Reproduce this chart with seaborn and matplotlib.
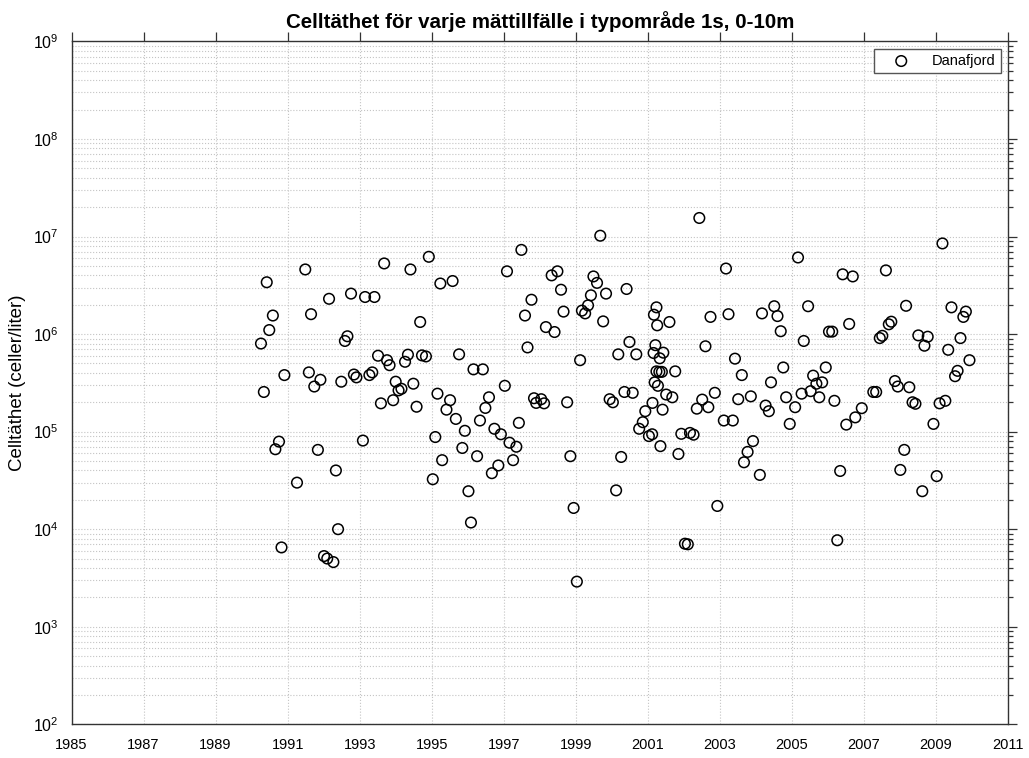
import matplotlib
matplotlib.use("Agg")
import matplotlib.pyplot as plt
import seaborn as sns
import pandas as pd
from matplotlib.ticker import FixedLocator, NullLocator, NullFormatter, LogFormatterSciNotation

title = "Celltäthet för varje mättillfälle i typområde 1s, 0-10m"
ylabel = "Celltäthet (celler/liter)"
series_name = "Danafjord"
xticks = list(range(1985, 2012, 2))
yticks = [1e2, 1e3, 1e4, 1e5, 1e6, 1e7, 1e8, 1e9]
ylim = (1e2, 1e9)

years = [
    1990.42, 1991.49, 1993.68, 1994.41, 1994.92, 1995.24, 1992.15, 1992.76, 1993.15, 1993.41,
    1990.59, 1991.65, 1990.49, 1990.26, 1992.66, 1992.59, 1994.68, 1993.51, 1993.76, 1993.83,
    1994.34, 1994.26, 1994.73, 1994.84, 1990.91, 1991.59, 1991.91, 1991.74, 1992.49, 1992.84,
    1992.91, 1993.27, 1993.35, 1994.00, 1994.08, 1994.16, 1994.49, 1990.34, 1993.59, 1993.93,
    1994.58, 1995.16, 1990.76, 1990.66, 1991.84, 1993.09, 1995.10, 1995.29, 1992.34, 1991.26,
    1995.03, 1992.40, 1990.83, 1992.01, 1992.10, 1992.27,
    1995.58, 1997.49, 1997.09, 1998.33, 1998.49, 1998.59, 1997.77, 1997.59, 1998.66, 1998.17,
    1998.41, 1999.68, 1999.49, 1999.59, 1999.84, 1999.42, 1999.34, 1999.17, 1999.26, 1999.76,
    2000.41, 1997.66, 1995.76, 1996.16, 1996.42, 1999.12, 2000.18, 2000.49, 1997.03, 1995.51,
    1995.41, 1996.59, 1996.49, 1995.67, 1996.34, 1997.84, 1997.90, 1998.04, 1998.12, 1998.76,
    1999.94, 2000.03, 2000.35, 2000.58, 1995.92, 1996.74, 1996.92, 1997.42, 1997.16, 1997.35,
    1995.85, 1996.26, 1997.26, 1996.85, 1996.67, 1998.85, 2000.26, 1996.02, 1996.09, 2000.12,
    1998.94, 1999.03,
    2002.43, 2003.17, 2005.17, 2001.24, 2001.17, 2001.26, 2001.60, 2002.74, 2003.24, 2004.17,
    2004.51, 2004.60, 2005.45, 2004.69, 2005.33, 2000.68, 2001.21, 2001.16, 2001.43, 2001.33,
    2002.60, 2003.42, 2001.24, 2001.32, 2001.39, 2001.76, 2003.61, 2004.76, 2005.59, 2004.42,
    2001.19, 2001.28, 2001.51, 2001.68, 2002.86, 2002.51, 2003.51, 2003.86, 2004.84, 2005.27,
    2005.52, 2005.68, 2005.76, 2001.13, 2000.93, 2001.41, 2002.36, 2002.68, 2004.27, 2004.36,
    2005.09, 2000.86, 2000.76, 2003.11, 2003.36, 2004.94, 2001.03, 2001.12, 2001.93, 2002.17,
    2002.27, 2001.35, 2001.85, 2003.92, 2003.77, 2003.67, 2004.11, 2002.93, 2002.03, 2002.11,
    2009.18, 2006.41, 2006.69, 2007.61, 2008.17, 2009.43, 2009.83, 2009.76, 2006.59, 2006.03,
    2006.12, 2007.69, 2007.76, 2007.44, 2007.51, 2008.51, 2008.77, 2008.68, 2009.68, 2009.34,
    2009.93, 2005.94, 2005.84, 2006.18, 2009.60, 2009.53, 2007.86, 2007.94, 2008.26, 2007.26,
    2007.34, 2008.35, 2008.43, 2009.10, 2009.26, 2006.94, 2006.76, 2006.51, 2008.93, 2008.12,
    2006.34, 2008.01, 2009.02, 2008.62, 2006.26,
]

cells = [
    3.4e6, 4.6e6, 5.3e6, 4.6e6, 6.2e6, 3.3e6, 2.3e6, 2.6e6, 2.4e6, 2.4e6,
    1.55e6, 1.6e6, 1.1e6, 8.0e5, 9.5e5, 8.5e5, 1.33e6, 6.0e5, 5.4e5, 4.8e5,
    6.15e5, 5.2e5, 6.05e5, 5.9e5, 3.8e5, 4.05e5, 3.4e5, 2.9e5, 3.25e5, 3.85e5,
    3.6e5, 3.8e5, 4.05e5, 3.25e5, 2.65e5, 2.75e5, 3.1e5, 2.55e5, 1.95e5, 2.1e5,
    1.8e5, 2.45e5, 7.9e4, 6.6e4, 6.5e4, 8.1e4, 8.8e4, 5.1e4, 4.0e4, 3.0e4,
    3.25e4, 1.0e4, 6.5e3, 5.3e3, 5.0e3, 4.6e3,
    3.5e6, 7.3e6, 4.4e6, 4.0e6, 4.4e6, 2.85e6, 2.25e6, 1.55e6, 1.7e6, 1.18e6,
    1.05e6, 1.02e7, 3.9e6, 3.35e6, 2.6e6, 2.5e6, 1.97e6, 1.74e6, 1.63e6, 1.35e6,
    2.9e6, 7.3e5, 6.2e5, 4.35e5, 4.35e5, 5.4e5, 6.2e5, 8.3e5, 2.95e5, 2.1e5,
    1.68e5, 2.25e5, 1.75e5, 1.35e5, 1.3e5, 2.2e5, 1.97e5, 2.15e5, 1.95e5, 2.0e5,
    2.15e5, 2.0e5, 2.55e5, 2.5e5, 1.02e5, 1.07e5, 9.4e4, 1.23e5, 7.7e4, 7.0e4,
    6.8e4, 5.6e4, 5.1e4, 4.5e4, 3.75e4, 5.6e4, 5.5e4, 2.45e4, 1.17e4, 2.5e4,
    1.65e4, 2.9e3,
    1.55e7, 4.7e6, 6.1e6, 1.88e6, 1.58e6, 1.23e6, 1.33e6, 1.5e6, 1.6e6, 1.63e6,
    1.93e6, 1.53e6, 1.93e6, 1.07e6, 8.5e5, 6.2e5, 7.7e5, 6.4e5, 6.45e5, 5.65e5,
    7.5e5, 5.6e5, 4.15e5, 4.1e5, 4.1e5, 4.15e5, 3.8e5, 4.55e5, 3.75e5, 3.2e5,
    3.2e5, 2.95e5, 2.4e5, 2.25e5, 2.5e5, 2.13e5, 2.15e5, 2.3e5, 2.25e5, 2.45e5,
    2.6e5, 3.1e5, 2.25e5, 1.97e5, 1.62e5, 1.68e5, 1.72e5, 1.78e5, 1.85e5, 1.62e5,
    1.78e5, 1.25e5, 1.07e5, 1.3e5, 1.3e5, 1.2e5, 9.0e4, 9.4e4, 9.5e4, 9.7e4,
    9.3e4, 7.1e4, 5.9e4, 8.0e4, 6.2e4, 4.85e4, 3.6e4, 1.73e4, 7.1e3, 7.0e3,
    8.5e6, 4.1e6, 3.9e6, 4.5e6, 1.95e6, 1.88e6, 1.7e6, 1.5e6, 1.27e6, 1.06e6,
    1.06e6, 1.26e6, 1.34e6, 9.1e5, 9.6e5, 9.7e5, 9.4e5, 7.6e5, 9.1e5, 6.9e5,
    5.4e5, 4.55e5, 3.2e5, 2.07e5, 4.2e5, 3.7e5, 3.3e5, 2.9e5, 2.85e5, 2.55e5,
    2.55e5, 2.0e5, 1.93e5, 1.95e5, 2.07e5, 1.74e5, 1.4e5, 1.18e5, 1.2e5, 6.5e4,
    3.95e4, 4.05e4, 3.5e4, 2.45e4, 7.7e3,
]

sns.set_style("white")
plt.rcParams['font.family'] = ['Liberation Sans', 'DejaVu Sans']
plt.rcParams['mathtext.fontset'] = 'custom'
plt.rcParams['mathtext.rm'] = 'Liberation Sans'
plt.rcParams['mathtext.it'] = 'Liberation Sans:italic'
plt.rcParams['mathtext.bf'] = 'Liberation Sans:bold'
plt.rcParams['text.color'] = 'black'
plt.rcParams['axes.labelcolor'] = 'black'

axis_color = '#333333'
grid_color = '#c4c4c4'

fig = plt.figure(figsize=(10.29, 7.58), dpi=100)
ax = fig.add_axes([0.0695, 0.0445, 0.9101, 0.9008])

df = pd.DataFrame({"year": years, "cells": cells})
sns.scatterplot(data=df, x="year", y="cells", ax=ax, marker='o', s=58,
                facecolors='none', edgecolor='black', linewidth=1.1,
                label=series_name, legend=False, zorder=3)
pts = ax.collections[0]
pts.set_facecolor('none')
pts.set_edgecolor('black')

ax.set_yscale('log')
ax.set_ylim(*ylim)
ax.set_xlim(xticks[0], xticks[-1])
ax.xaxis.set_major_locator(FixedLocator(xticks))
ax.xaxis.set_minor_locator(NullLocator())
yminor = [m * t for t in yticks[:-1] for m in range(2, 10)]
ax.yaxis.set_major_locator(FixedLocator(yticks))
ax.yaxis.set_major_formatter(LogFormatterSciNotation(base=10))
ax.yaxis.set_minor_locator(FixedLocator(yminor))
ax.yaxis.set_minor_formatter(NullFormatter())

ax.grid(True, which='major', axis='both', linestyle=':', color=grid_color, linewidth=0.8)
ax.grid(True, which='minor', axis='y', linestyle=':', color=grid_color, linewidth=0.8)
ax.set_axisbelow(True)

for sp in ax.spines.values():
    sp.set_visible(True)
    sp.set_color(axis_color)
    sp.set_linewidth(1.0)

ax.tick_params(which='both', direction='out', top=True, right=True,
               color=axis_color, labelcolor='black')
ax.tick_params(which='major', length=6.5, width=0.9)
ax.tick_params(which='minor', length=3.5, width=0.9)
ax.tick_params(axis='y', which='major', pad=2.5, labelsize=11.5)
ax.tick_params(axis='x', which='major', pad=3.5, labelsize=10.5)

ax.set_xlabel("")
ax.xaxis.label.set_visible(False)
ax.set_ylabel(ylabel, fontsize=13.5, labelpad=5, color='black')
ax.set_title(title, fontsize=14.8, fontweight='bold', pad=9.5, color='black')

leg = ax.legend(handles=[pts], labels=[series_name], loc='upper right', fontsize=10.5,
                frameon=True, fancybox=False, framealpha=1, edgecolor='#555555',
                handlelength=3.0, handletextpad=0.6, borderaxespad=0.5, borderpad=0.35)
leg.get_frame().set_linewidth(1.0)
for t in leg.get_texts():
    t.set_color('black')

fig.savefig("out.png", dpi=100)
